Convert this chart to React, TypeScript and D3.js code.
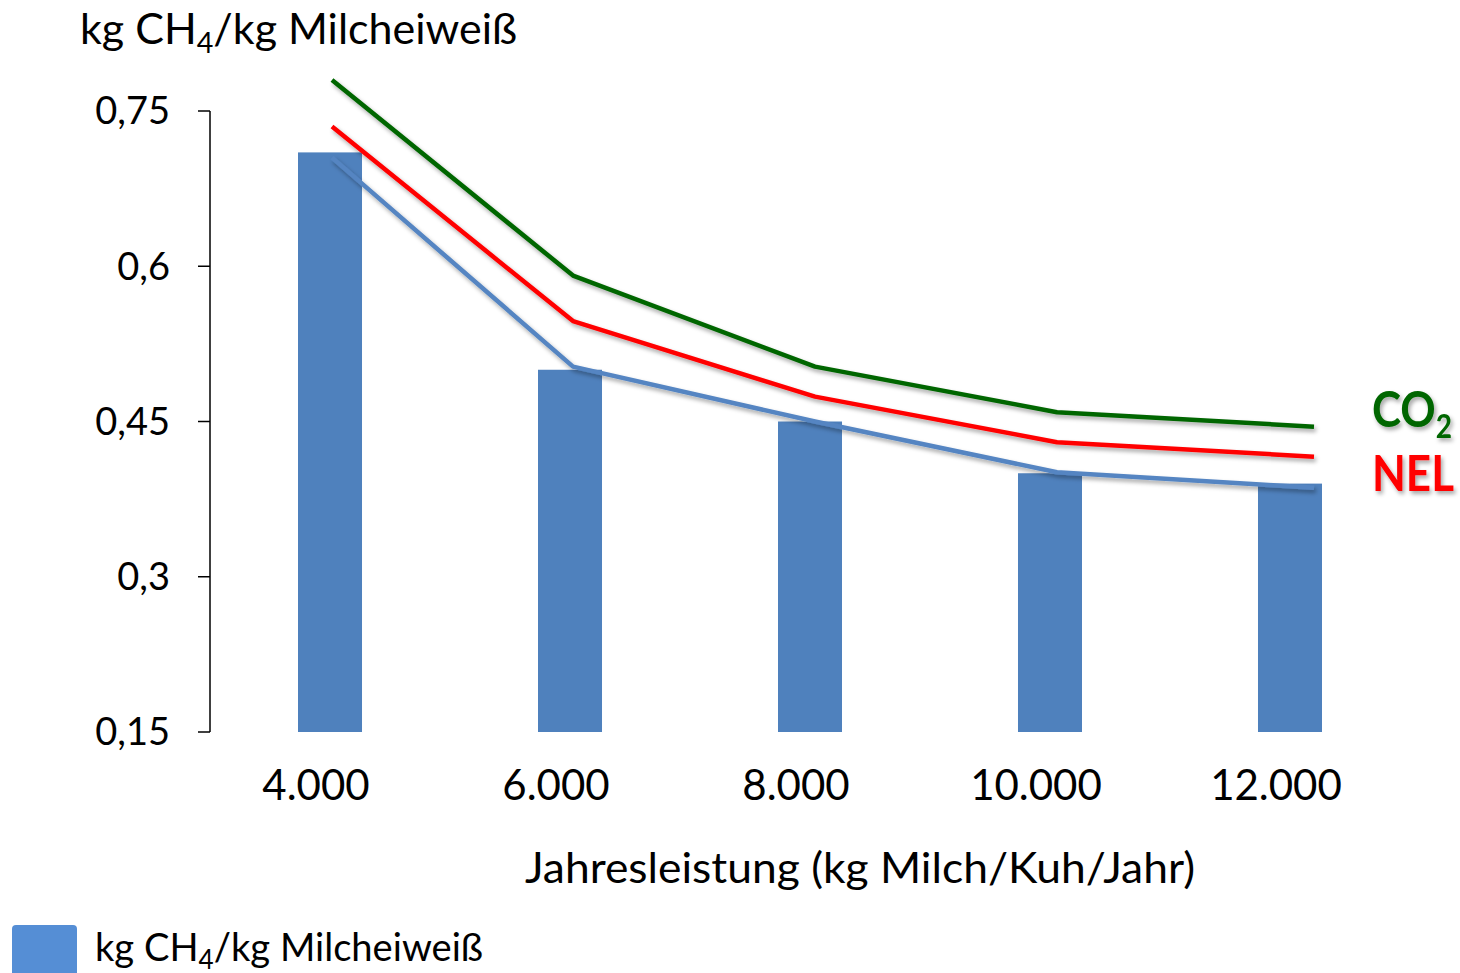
import React from "react";
import * as d3 from "d3";

// Annual milk yield classes (kg milk / cow / year)
const categories = ["4.000", "6.000", "8.000", "10.000", "12.000"];
const yieldKg = [4000, 6000, 8000, 10000, 12000];

// Bars: kg CH4 per kg milk protein
const barValues = [0.71, 0.5, 0.45, 0.4, 0.39];

// Trend lines
const ch4Line = [0.705, 0.503, 0.45, 0.401, 0.386];
const nelLine = [0.735, 0.547, 0.474, 0.43, 0.416];
const co2Line = [0.78, 0.591, 0.503, 0.459, 0.445];

const yTicks = [0.15, 0.3, 0.45, 0.6, 0.75];

const W = 1460;
const H = 973;
const FONT = "Lato, 'Open Sans', sans-serif";

const fmtTick = (v: number) => String(v).replace(".", ",");

export default function App() {
  const y = d3.scaleLinear().domain([0.15, 0.75]).range([732, 111]);

  const xBand = d3
    .scaleBand<string>()
    .domain(categories)
    .range([210, 1410])
    .paddingInner(0.7333)
    .paddingOuter(0.3667);

  // Trend lines are placed on the yield axis itself
  const xLine = d3
    .scaleLinear()
    .domain([4000, 6000, 8000, 10000, 12000])
    .range([332, 573, 815, 1057, 1314]);

  const line = d3
    .line<number>()
    .x((_, i) => xLine(yieldKg[i]))
    .y((d) => y(d));

  const blue = "#4F81BD";

  return (
    <svg
      width={W}
      height={H}
      viewBox={`0 0 ${W} ${H}`}
      style={{ position: "fixed", left: 0, top: 0, background: "#fff" }}
      fontFamily={FONT}
    >
      <defs>
        <filter id="shadow" x="-10%" y="-10%" width="120%" height="130%">
          <feDropShadow dx="2" dy="3" stdDeviation="2" floodColor="#000" floodOpacity="0.35" />
        </filter>
      </defs>

      {/* Title */}
      <text x={80} y={44} fontSize={42} fill="#000" textLength={437} lengthAdjust="spacingAndGlyphs">
        kg CH
        <tspan fontSize={28} dy={9}>4</tspan>
        <tspan dy={-9}>/kg Milcheiweiß</tspan>
      </text>

      {/* Bars */}
      {barValues.map((v, i) => (
        <rect
          key={categories[i]}
          x={xBand(categories[i])}
          y={y(v)}
          width={xBand.bandwidth()}
          height={y(0.15) - y(v)}
          fill={blue}
        />
      ))}

      {/* Y axis */}
      <line x1={210} x2={210} y1={y(0.75)} y2={y(0.15)} stroke="#000" strokeWidth={1.5} />
      {yTicks.map((t) => (
        <g key={t}>
          <line x1={198} x2={210} y1={y(t)} y2={y(t)} stroke="#000" strokeWidth={1.5} />
          <text x={170} y={y(t)} dy="0.35em" textAnchor="end" fontSize={38} fill="#000">
            {fmtTick(t)}
          </text>
        </g>
      ))}

      {/* Lines */}
      <g filter="url(#shadow)" fill="none" strokeWidth={4.5} strokeLinejoin="round">
        <path d={line(co2Line) || ""} stroke="#006600" />
        <path d={line(nelLine) || ""} stroke="#FF0000" />
        <path d={line(ch4Line) || ""} stroke="#5585C2" />
      </g>

      {/* X tick labels */}
      {categories.map((c) => (
        <text
          key={c}
          x={(xBand(c) || 0) + xBand.bandwidth() / 2 - 14}
          y={800}
          textAnchor="middle"
          fontSize={42}
          fill="#000"
        >
          {c}
        </text>
      ))}

      {/* X axis title */}
      <text x={525} y={883} fontSize={42} fill="#000" textLength={670} lengthAdjust="spacingAndGlyphs">
        Jahresleistung (kg Milch/Kuh/Jahr)
      </text>

      {/* Series labels */}
      <g filter="url(#shadow)">
        <text x={1372} y={427} fontSize={50} fontWeight="bold" fill="#006600" textLength={80} lengthAdjust="spacingAndGlyphs">
          CO
          <tspan fontSize={32} dy={11}>2</tspan>
        </text>
        <text x={1372} y={491} fontSize={50} fontWeight="bold" fill="#FF0000" textLength={82} lengthAdjust="spacingAndGlyphs">
          NEL
        </text>
      </g>

      {/* Legend */}
      <rect x={12} y={925} width={65} height={60} rx={4} fill="#558ED5" />
      <text x={95} y={961} fontSize={38} fill="#000" textLength={388} lengthAdjust="spacingAndGlyphs">
        kg CH
        <tspan fontSize={26} dy={8}>4</tspan>
        <tspan dy={-8}>/kg Milcheiweiß</tspan>
      </text>
    </svg>
  );
}
